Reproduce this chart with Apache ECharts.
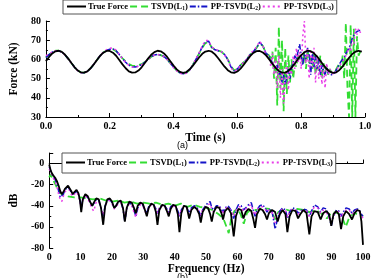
<!DOCTYPE html>
<html><head><meta charset="utf-8">
<script src="https://cdn.jsdelivr.net/npm/echarts@6/dist/echarts.min.js"></script>
<style>html,body{margin:0;padding:0;background:#fff}#c{width:375px;height:278px}</style>
</head><body><div id="c"></div>
<script>
// ---------- (a) time domain ----------
const seriesNames = ['True Force', 'TSVD(L1)', 'PP-TSVD(L2)', 'PP-TSVD(L3)'];
const timeTicks = [0, 0.2, 0.4, 0.6, 0.8, 1.0];
// True force sampled every 0.01 s from 0.00 to 0.99
const trueForce = [59.0,61.3,63.1,64.2,64.5,63.9,62.4,60.4,58.1,55.9,
  54.2,53.2,53.1,53.8,55.4,57.4,59.7,61.9,63.5,64.4,
  64.4,63.5,61.9,59.7,57.4,55.4,53.8,53.1,53.2,54.2,
  55.9,58.1,60.4,62.4,63.8,64.5,64.2,63.1,61.3,59.0,
  56.8,54.8,53.5,53.0,53.4,54.7,56.6,58.8,61.0,62.9,
  64.1,64.5,64.0,62.6,60.6,58.4,56.2,54.4,53.3,53.0,
  53.7,55.2,57.2,59.5,61.7,63.4,64.3,64.4,63.6,62.1,
  60.0,57.7,55.6,54.0,53.1,53.1,54.1,55.7,57.9,60.2,
  62.2,63.7,64.5,64.3,63.2,61.5,59.3,57.0,55.0,53.6,
  53.0,53.3,54.5,56.3,58.6,60.8,62.8,64.0,64.5,64.1];
// identified forces: every 0.01 s for 0.00-0.69, then every 0.005 s for 0.700-0.990
const forceL1 = [61,62.5,63.8,64.5,64.5,63.8,62.3,60.3,58,55.9,
  54.2,53.2,53.1,53.8,55.3,57.4,59.7,61.9,63.6,64.7,
  65.2,65.3,64.3,62.5,60.6,58.8,57.5,56.8,56.6,57,
  57.5,58.6,60,61.4,62.2,62.5,62.2,61.4,60,58,
  56,54.3,53,52.6,53,54.5,57,60,63,66,
  68.5,69,66.2,65.2,64.6,64,62.5,60,56.5,54.3,
  55,57,58.5,60,62.5,64,66,68.5,67,63,
  62,58,64,50,66,36,77,45,70,33,
  66,42,62,48,60,50,58,56,63,60,
  62,58,64,55,65,58,62,55,64,52,
  60,54,62,50,58,53,57,52,55,53,
  54,53,55,56,58,55,62,50,79,45,
  30,78,30,76,30,72,62,64,63];
const forceL2 = [61,62.5,63.8,64.5,64.5,63.8,62.3,60.3,58,55.9,
  54.2,53.2,53.1,53.8,55.3,57.4,59.7,61.9,63.6,64.7,
  65.3,65.5,64.5,62.5,60.5,58.5,57,56.2,56,56.5,
  57.3,58.5,60,61.5,62.3,62.6,62.3,61.5,60,58,
  56,54.3,53,52.5,53,54.5,57,60,63,66.5,
  69,69.5,66,65,64.5,64,62.5,60,56,54,
  55,57,58.5,60,62.5,64,66,69,67,63,
  62,60,58,59,55,57,52,54,48,52,
  47,51,55,50,56,58,62,60,64,68,
  62,57,63,60,66,63,52,64,56,62,
  55,60,52,57,54,52,56,53,54,52,
  53,53,54,56,57,59,58,61,63,64,
  66,68,71,72,74,74.5,75,75,75];
const forceL3 = [62,62.8,63.9,64.5,64.4,63.7,62.2,60.2,58,55.8,
  54.1,53.1,53,53.8,55.3,57.5,59.8,62,63.8,65,
  65.8,66,64.8,62.6,60.4,58.4,56.9,56.1,55.9,56.4,
  57.2,58.4,60,61.4,62.2,62.5,62.2,61.4,59.9,57.8,
  55.8,54,52.8,52.3,52.8,54.4,57,60.2,63.5,67,
  69.8,69.8,66.5,65.2,64.6,64,62.3,59.6,55.6,53.8,
  54.8,56.8,58.5,60.2,62.8,64.5,66.5,69.5,67,62.5,
  61,56,63,52,60,45,62,40,55,37,
  50,58,44,56,52,62,55,66,58,64,
  55,72,80,58,66,50,64,56,66,48,
  62,50,60,47,56,45,58,52,55,53,
  54,52,55,54,56,58,57,60,62,61,
  66,64,70,68,76,73,76,74,75];

// ---------- (b) frequency domain ----------
const freqTicks = [0, 10, 20, 30, 40, 50, 60, 70, 80, 90, 100];
const dbTicks = [-80, -60, -40, -20, 0];
const freq = [0,0.5,1,1.5,2,2.5,3,3.5,4,4.5,5,5.5,6,6.5,7,7.5,8,8.7,9.3,9.8,
  10.2,10.7,11.5,12.3,13,13.7,14.2,15,15.8,16.5,
  17.2,17.8,18.5,19.3,20,20.7,21.3,22,22.8,23.5,
  24.1,24.7,25.5,26.3,27,27.6,28.2,29,29.8,30.5,
  31.1,31.7,32.5,33.3,34,34.5,35.1,36,36.8,37.5,
  38.1,38.7,39.5,40.3,41,41.5,42.1,42.9,43.8,44.6,
  45.3,46.2,47,47.8,48.3,48.9,49.8,50.6,51.3,51.8,
  52.4,53.3,54.2,55,55.4,56,57,57.9,58.8,59.5,
  60.3,61.2,61.9,62.6,63.5,64.4,65,65.6,66.2,67.1,
  68,68.8,69.4,70,71,72,72.8,73.5,74.4,75.3,
  75.9,76.6,77.5,78.5,79.3,80,81,82,82.9,83.6,
  84.5,85.6,86.5,87.3,88.3,89.2,89.9,90.6,91.5,92.3,
  93,93.7,94.6,95.6,96.5,97.3,98.2,99,99.5,100];
const dbTrue = [-1,-7,-10,-12,-14,-17,-21,-26,-29,-27,-24,-23,-21,-21,-26,-29,-27,-25,-28,-35,
  -46,-34,-29,-31,-36,-40,-37,-33,-34,-42,
  -58,-41,-34,-33,-36,-42,-40,-36,-35,-42,
  -55,-42,-36,-37,-42,-47,-40,-37,-38,-44,
  -50,-42,-38,-39,-46,-58,-44,-39,-40,-45,
  -50,-43,-39,-40,-48,-65,-47,-40,-41,-52,
  -44,-41,-43,-48,-56,-46,-41,-42,-48,-55,
  -46,-41,-42,-48,-53,-45,-42,-47,-69,-50,
  -43,-44,-52,-46,-43,-45,-52,-61,-48,-43,
  -44,-48,-53,-47,-44,-46,-55,-48,-44,-48,
  -65,-50,-44,-45,-52,-48,-44,-47,-67,-50,
  -45,-46,-53,-47,-45,-48,-59,-48,-45,-48,
  -62,-50,-45,-48,-53,-47,-44,-45,-55,-77];
const dbL2 = [-3,-7,-11,-13,-16,-20,-26,-32,-33,-29,-25,-24,-22,-23,-27,-30,-28,-26,-29,-35,
  -42,-34,-30,-32,-36,-40,-38,-34,-35,-42,
  -50,-40,-35,-34,-37,-42,-40,-37,-36,-43,
  -55,-43,-37,-39,-44,-50,-42,-38,-39,-44,
  -47,-41,-38,-39,-43,-48,-42,-39,-40,-43,
  -46,-41,-39,-41,-45,-50,-44,-40,-41,-47,
  -42,-40,-41,-46,-50,-44,-40,-37,-36,-42,
  -44,-40,-40,-44,-46,-42,-40,-44,-52,-44,
  -39,-40,-44,-42,-39,-37,-44,-50,-44,-40,
  -39,-42,-46,-43,-45,-62,-52,-45,-42,-44,
  -52,-46,-42,-43,-47,-45,-43,-44,-50,-45,
  -39,-41,-46,-42,-43,-50,-59,-50,-44,-45,
  -50,-46,-42,-43,-47,-44,-43,-45,-48,-50];
const dbL3 = [-5,-9,-12,-15,-18,-23,-29,-34,-36,-31,-27,-25,-24,-25,-29,-31,-29,-27,-30,-36,
  -43,-35,-31,-33,-38,-43,-45,-36,-36,-42,
  -49,-41,-36,-35,-38,-43,-41,-38,-37,-43,
  -52,-43,-38,-40,-46,-51,-43,-39,-40,-45,
  -49,-42,-39,-40,-44,-47,-42,-40,-41,-44,
  -47,-42,-40,-42,-46,-49,-44,-41,-42,-48,
  -43,-41,-42,-46,-49,-44,-41,-39,-38,-43,
  -46,-41,-41,-45,-48,-43,-41,-45,-50,-45,
  -41,-41,-45,-43,-40,-39,-45,-49,-44,-41,
  -41,-43,-46,-44,-46,-56,-50,-45,-43,-45,
  -51,-46,-43,-44,-48,-46,-44,-45,-50,-46,
  -41,-42,-47,-44,-46,-52,-56,-49,-45,-46,
  -51,-47,-44,-44,-48,-45,-44,-46,-49,-52];
const freqL1 = [0,0.5,1,2,3,4,5,6,8,10,12,14,16,18,20,22,24,26,28,30,32,34,36,38,40,42,44,46,48,50,
  52,54,55.5,56.5,57.2,58,59,60,61,62,63,64,66,68,70,71,72,73,75,77,79,81,83,85,87,88.5,90,92,93.5,94.5,95.5,97,99,100];
const dbL1 = [-13,-10,-14,-20,-26,-29,-30,-31,-32,-32,-33,-34,-33,-35,-36,-35,-37,-36,-38,-37,-38,-37,-39,-38,-40,-38,-41,-39,-41,-42,
  -44,-48,-52,-60,-66,-52,-45,-43,-48,-57,-47,-44,-44,-42,-43,-46,-53,-46,-43,-45,-43,-44,-46,-44,-48,-52,-46,-47,-52,-60,-52,-47,-48,-50];

// ---------- build ----------
const trueTime = trueForce.map((_, i) => i / 100);
const idTime = forceL2.map((_, i) => i < 70 ? i / 100 : 0.70 + (i - 70) * 0.005);
const zip = (xs, ys) => ys.map((y, i) => [xs[i], y]);

const SERIF = '"Liberation Serif","Times New Roman",serif';
const styles = [
  {color: '#000000', width: 1.8, type: 'solid'},
  {color: '#33dd33', width: 1.8, type: [7, 4]},
  {color: '#1414c8', width: 1.5, type: [6, 2, 1.5, 2]},
  {color: '#e83ce8', width: 1.5, type: [2, 3]}
];
const rich = {
  n: {fontFamily: SERIF, fontWeight: 'bold', fontSize: 8.5, color: '#000'},
  s: {fontFamily: SERIF, fontWeight: 'bold', fontSize: 5.5, color: '#000', padding: [5, 0, 0, 0]}
};
const legendFmt = name => {
  const m = name.match(/^(.*)\(L(\d)\)$/);
  return m ? '{n|' + m[1] + '(L}{s|' + m[2] + '}{n|)}' : '{n|' + name + '}';
};
function mkLegend(left, top, pad) {
  return {
    data: seriesNames, left: left, top: top, orient: 'horizontal',
    itemWidth: 19, itemHeight: 8, itemGap: 1, padding: pad,
    borderColor: '#555', borderWidth: 1, backgroundColor: '#fff',
    itemStyle: {opacity: 0},
    formatter: legendFmt, textStyle: {rich: rich, padding: [0, 0, 0, -3]}
  };
}
const tickLab = {fontFamily: SERIF, fontWeight: 'bold', fontSize: 10, color: '#000'};
const nameSty = {fontFamily: SERIF, fontWeight: 'bold', fontSize: 11.5, color: '#000'};
const axLine = {lineStyle: {color: '#000', width: 1}};

const chart = echarts.init(document.getElementById('c'), null, {renderer: 'canvas'});
const mk = (name, data, i, gi) => ({
  name: name, type: 'line', data: data, xAxisIndex: gi, yAxisIndex: gi,
  showSymbol: false, symbol: 'none', animation: false, z: i === 0 ? 3 : 2,
  lineStyle: {color: styles[i].color, width: styles[i].width, type: styles[i].type},
  itemStyle: {color: styles[i].color}
});
chart.setOption({
  animation: false,
  grid: [
    {left: 34, right: 10, top: 21, bottom: 161},
    {left: 32, right: 12, top: 153, bottom: 30}
  ],
  legend: [mkLegend(63, 0, [2, 3, 2, 3]), mkLegend(62, 153, [5, 3, 5, 3])],
  xAxis: [
    {type: 'value', gridIndex: 0, min: timeTicks[0], max: timeTicks[timeTicks.length - 1], interval: 0.2,
     axisLine: axLine, axisTick: {inside: true, length: 4, lineStyle: {color: '#000'}},
     minorTick: {show: true, splitNumber: 2, length: 2, lineStyle: {color: '#000'}},
     splitLine: {show: false},
     axisLabel: Object.assign({margin: 4, formatter: v => v.toFixed(1)}, tickLab),
     name: 'Time (s)', nameLocation: 'middle', nameGap: 13, nameTextStyle: nameSty},
    {type: 'value', gridIndex: 1, min: freqTicks[0], max: freqTicks[freqTicks.length - 1], interval: 10,
     axisLine: axLine, axisTick: {inside: true, length: 4, lineStyle: {color: '#000'}},
     minorTick: {show: true, splitNumber: 2, length: 2, lineStyle: {color: '#000'}},
     splitLine: {show: false},
     axisLabel: Object.assign({margin: 4}, tickLab),
     name: 'Frequency (Hz)', nameLocation: 'middle', nameGap: 14, nameTextStyle: nameSty}
  ],
  yAxis: [
    {type: 'value', gridIndex: 0, min: 30, max: 80, interval: 10,
     axisLine: Object.assign({show: true}, axLine), axisTick: {show: true, inside: true, length: 4, lineStyle: {color: '#000'}},
     minorTick: {show: true, splitNumber: 2, length: 2, lineStyle: {color: '#000'}},
     splitLine: {show: false},
     axisLabel: Object.assign({margin: 5}, tickLab),
     name: 'Force (kN)', nameLocation: 'middle', nameGap: 20, nameRotate: 90, nameTextStyle: nameSty},
    {type: 'value', gridIndex: 1, min: dbTicks[0], max: 10, interval: 20,
     axisLine: Object.assign({show: true}, axLine), axisTick: {show: true, inside: true, length: 4, lineStyle: {color: '#000'}},
     minorTick: {show: true, splitNumber: 2, length: 2, lineStyle: {color: '#000'}},
     splitLine: {show: false},
     axisLabel: Object.assign({margin: 5, showMaxLabel: false,
       formatter: v => (dbTicks.indexOf(v) >= 0 ? String(v) : '')}, tickLab),
     name: 'dB', nameLocation: 'middle', nameGap: 22, nameRotate: 90, nameTextStyle: nameSty}
  ],
  graphic: [
    {type: 'text', left: 177, top: 141, style: {text: '(a)', fontSize: 9, fontFamily: 'Liberation Sans, Arial', fill: '#000'}},
    {type: 'text', left: 177, top: 273, style: {text: '(b)', fontSize: 9, fontFamily: 'Liberation Sans, Arial', fill: '#000'}}
  ],
  series: [
    mk(seriesNames[1], zip(idTime, forceL1), 1, 0),
    mk(seriesNames[2], zip(idTime, forceL2), 2, 0),
    mk(seriesNames[3], zip(idTime, forceL3), 3, 0),
    mk(seriesNames[0], zip(trueTime, trueForce), 0, 0),
    mk(seriesNames[1], zip(freqL1, dbL1), 1, 1),
    mk(seriesNames[2], zip(freq, dbL2), 2, 1),
    mk(seriesNames[3], zip(freq, dbL3), 3, 1),
    mk(seriesNames[0], zip(freq, dbTrue), 0, 1)
  ]
});
</script></body></html>
